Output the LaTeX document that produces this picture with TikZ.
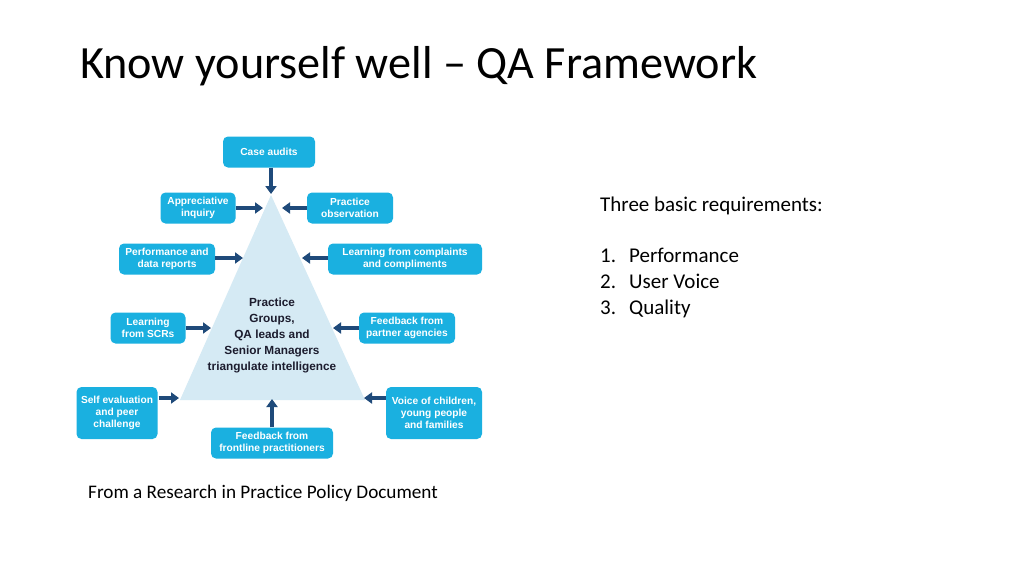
\documentclass[tikz,border=0pt]{standalone}
\usepackage{fontspec}
\setmainfont{Carlito}[Ligatures=NoCommon]
\newfontfamily\arialfont{Liberation Sans}
\usetikzlibrary{arrows.meta}
\definecolor{boxblue}{HTML}{1AB0E0}
\definecolor{trifill}{HTML}{D5EAF4}
\definecolor{navy}{HTML}{1F4A7A}
\definecolor{tritext}{HTML}{1C1C2E}
\begin{document}
\begin{tikzpicture}[x=1pt,y=-1pt,
  bx/.style={fill=boxblue,rounded corners=5pt,text=white,align=center,
    font=\arialfont\bfseries\fontsize{10.2}{12}\selectfont,inner sep=0pt},
  arr/.style={navy,line width=3.2pt,-{Triangle[length=8pt,width=11pt]}},
  body/.style={anchor=base west,inner sep=0pt,font=\fontsize{21}{24}\selectfont}]
\useasboundingbox (0,0) rectangle (1024,576);
\fill[white] (0,0) rectangle (1024,576);
% title
\node[anchor=base west,inner sep=0pt,font=\fontsize{46.2}{52}\selectfont] (title) at (80,78) {Know yourself well -- QA Framework};
% triangle
\coordinate (apex) at (271,195);
\coordinate (bl) at (180,400);
\coordinate (br) at (365,400);
\fill[trifill] (apex) -- (bl) -- (br) -- cycle;
\node[align=center,text=tritext,font=\arialfont\bfseries\fontsize{11.8}{16}\selectfont,inner sep=0pt] (center) at (272,335)
 {Practice\\Groups,\\QA leads and\\Senior Managers\\triangulate intelligence};
% boxes
\node[bx,minimum width=92pt,minimum height=31pt] (ca) at (269,152) {Case audits};
\node[bx,minimum width=75pt,minimum height=31pt] (ai) at (198,208) {Appreciative\\inquiry};
\node[bx,minimum width=86pt,minimum height=31pt] (po) at (350,208) {Practice\\observation};
\node[bx,minimum width=96pt,minimum height=31pt] (pd) at (167,259) {Performance and\\data reports};
\node[bx,minimum width=154pt,minimum height=31pt] (lc) at (405,259) {Learning from complaints\\and compliments};
\node[bx,minimum width=75pt,minimum height=31pt] (ls) at (148,328) {Learning\\from SCRs};
\node[bx,minimum width=96pt,minimum height=31pt] (fp) at (407,328) {Feedback from\\partner agencies};
\node[bx,minimum width=81pt,minimum height=52pt] (se) at (117,413) {Self evaluation\\and peer\\challenge};
\node[bx,minimum width=96pt,minimum height=52pt] (vc) at (434,413) {Voice of children,\\young people\\and families};
\node[bx,minimum width=122pt,minimum height=31pt] (ff) at (272,443) {Feedback from\\frontline practitioners};
% arrow end points
\coordinate (tca) at (271,194);
\coordinate (tai) at (263,208);
\coordinate (tpo) at (282,208);
\coordinate (tpd) at (243,258);
\coordinate (tlc) at (302,258);
\coordinate (tls) at (211,328);
\coordinate (tfp) at (333,328);
\coordinate (tse) at (179,398);
\coordinate (tvc) at (364,398);
\coordinate (tff) at (272,399);
\draw[arr] (ca.south -| tca) -- (tca);
\draw[arr] (ai.east |- tai) -- (tai);
\draw[arr] (po.west |- tpo) -- (tpo);
\draw[arr] (pd.east |- tpd) -- (tpd);
\draw[arr] (lc.west |- tlc) -- (tlc);
\draw[arr] (ls.east |- tls) -- (tls);
\draw[arr] (fp.west |- tfp) -- (tfp);
\draw[arr] ([xshift=1pt]se.east |- tse) -- (tse);
\draw[arr] (vc.west |- tvc) -- (tvc);
\draw[arr] (ff.north -| tff) -- (tff);
% right text
\node[body] (req) at (600,211) {Three basic requirements:};
\node[body] (n1) at (600,262) {1.};
\node[body] (i1) at (629,262) {Performance};
\node[body] (n2) at (600,288) {2.};
\node[body] (i2) at (629,288) {User Voice};
\node[body] (n3) at (600,314) {3.};
\node[body] (i3) at (629,314) {Quality};
% caption
\node[anchor=base west,inner sep=0pt,font=\fontsize{19.2}{22}\selectfont] (cap) at (88,498) {From a Research in Practice Policy Document};
\end{tikzpicture}
\end{document}
